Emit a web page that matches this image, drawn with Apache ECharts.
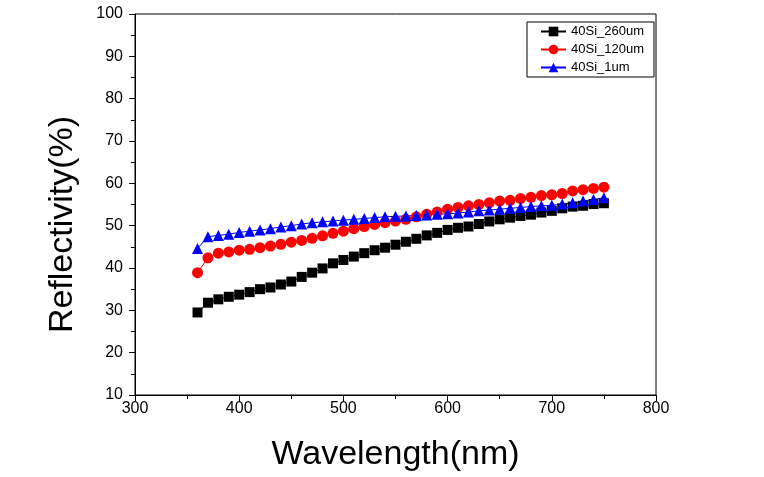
<!DOCTYPE html>
<html>
<head>
<meta charset="utf-8">
<script src="https://cdn.jsdelivr.net/npm/echarts@6/dist/echarts.min.js"></script>
<style>
html,body{margin:0;padding:0;background:#fff;}
#c{width:764px;height:477px;}
</style>
</head>
<body>
<div id="c"></div>
<script>
const wavelengths = [360,370,380,390,400,410,420,430,440,450,460,470,480,490,500,510,520,530,540,550,560,570,580,590,600,610,620,630,640,650,660,670,680,690,700,710,720,730,740,750];
const si260 = [29.5,31.8,32.6,33.2,33.7,34.3,35.0,35.4,36.1,36.8,37.9,38.9,39.9,41.1,41.9,42.7,43.5,44.2,44.8,45.5,46.2,46.9,47.7,48.3,49.0,49.5,49.8,50.4,51.0,51.5,51.9,52.3,52.6,53.1,53.5,54.1,54.5,54.7,55.1,55.3];
const si120 = [38.9,42.4,43.5,43.8,44.2,44.4,44.8,45.2,45.6,46.1,46.5,47.0,47.6,48.2,48.7,49.3,49.8,50.3,50.7,51.1,51.5,52.1,52.7,53.2,53.9,54.3,54.7,55.0,55.4,55.8,56.0,56.4,56.7,57.1,57.3,57.6,58.2,58.5,58.8,59.1];
const si1 = [44.6,47.4,47.7,48.0,48.4,48.7,49.0,49.3,49.7,50.0,50.4,50.7,50.9,51.1,51.3,51.5,51.7,51.9,52.1,52.2,52.3,52.4,52.5,52.7,52.8,53.0,53.2,53.5,53.7,53.9,54.1,54.3,54.5,54.7,54.8,55.1,55.4,55.8,56.2,56.6];
const seriesNames = ['40Si_260um','40Si_120um','40Si_1um'];
const xTitle = 'Wavelength(nm)';
const yTitle = 'Reflectivity(%)';

const font = '"Liberation Sans", Arial, sans-serif';
const pair = arr => wavelengths.map((w,i)=>[w,arr[i]]);
const chart = echarts.init(document.getElementById('c'));
chart.setOption({
  animation:false,
  backgroundColor:'#fff',
  grid:{left:135,right:108,top:14,bottom:81,show:true,borderColor:'#000',borderWidth:1,backgroundColor:'transparent'},
  legend:{
    orient:'vertical',left:527,top:22,
    borderColor:'#000',borderWidth:1,borderRadius:0,
    padding:[3,10,3,13],itemGap:5,itemWidth:25,itemHeight:12,
    textStyle:{fontFamily:font,fontSize:13,color:'#000'},
    data:seriesNames
  },
  xAxis:{
    type:'value',min:300,max:800,interval:100,
    name:xTitle,nameLocation:'middle',nameGap:43,
    nameTextStyle:{fontFamily:font,fontSize:34,color:'#000'},
    axisLine:{show:true,lineStyle:{color:'#000',width:1}},
    axisTick:{show:true,inside:false,length:6,lineStyle:{color:'#000'}},
    minorTick:{show:true,splitNumber:2,length:4,lineStyle:{color:'#000'}},
    axisLabel:{fontFamily:font,fontSize:16,color:'#000',margin:6},
    splitLine:{show:false}
  },
  yAxis:{
    type:'value',min:10,max:100,interval:10,
    name:yTitle,nameLocation:'middle',nameGap:55,
    nameTextStyle:{fontFamily:font,fontSize:34,color:'#000',padding:[0,40,0,0]},
    axisLine:{show:true,lineStyle:{color:'#000',width:1}},
    axisTick:{show:true,inside:false,length:6,lineStyle:{color:'#000'}},
    minorTick:{show:true,splitNumber:2,length:4,lineStyle:{color:'#000'}},
    axisLabel:{fontFamily:font,fontSize:16,color:'#000',margin:12},
    splitLine:{show:false}
  },
  series:[
    {name:seriesNames[0],type:'line',data:pair(si260),symbol:'rect',symbolSize:10,
     itemStyle:{color:'#000'},lineStyle:{color:'#000',width:1}},
    {name:seriesNames[1],type:'line',data:pair(si120),symbol:'circle',symbolSize:11,
     itemStyle:{color:'#ff0000'},lineStyle:{color:'#ff0000',width:1}},
    {name:seriesNames[2],type:'line',data:pair(si1),symbol:'triangle',symbolSize:11,
     itemStyle:{color:'#0000ff'},lineStyle:{color:'#0000ff',width:1}}
  ]
});
</script>
</body>
</html>
